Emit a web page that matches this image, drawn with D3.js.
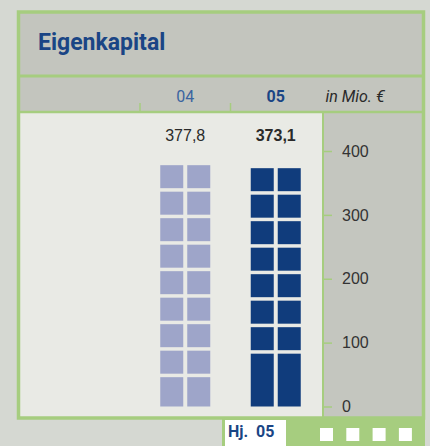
<!DOCTYPE html>
<html>
<head>
<meta charset="utf-8">
<script src="https://cdn.jsdelivr.net/npm/d3@7"></script>
<style>
  body { margin: 0; background: #d5d8d2; }
  svg { display: block; }
</style>
</head>
<body>
<div id="chart"></div>
<script>
// Eigenkapital, in Mio. €
var years = ["04", "05"];
var values = [377.8, 373.1];
var valueLabels = ["377,8", "373,1"];
var tickValues = [0, 100, 200, 300, 400];

var W = 430, H = 446;
var green = "#a6cd7f";

var svg = d3.select("#chart").append("svg")
    .attr("width", W)
    .attr("height", H);

// bottom tab
svg.append("rect").attr("x", 222).attr("y", 416).attr("width", 203).attr("height", 30).attr("fill", green);
svg.append("rect").attr("x", 225).attr("y", 420).attr("width", 61).attr("height", 26).attr("fill", "#ffffff");
svg.append("text")
    .attr("x", 228).attr("y", 437)
    .style("font", "bold 16px Roboto")
    .style("fill", "#1a4585")
    .attr("xml:space", "preserve")
    .text("Hj.  05");

var squares = svg.selectAll(".sq")
    .data([0, 1, 2, 3]).enter()
    .append("rect")
    .attr("class", "sq")
    .attr("x", function(d) { return 320 + d * 26.3; })
    .attr("y", 428)
    .attr("width", 13)
    .attr("height", 13)
    .attr("fill", "#ffffff");

// panels
svg.append("rect").attr("x", 19).attr("y", 12).attr("width", 404).attr("height", 65).attr("fill", "#c3c5be");
svg.append("rect").attr("x", 19).attr("y", 77).attr("width", 404).attr("height", 36).attr("fill", "#c3c5be");
svg.append("rect").attr("x", 19).attr("y", 113).attr("width", 304).attr("height", 305).attr("fill", "#e9eae5");
svg.append("rect").attr("x", 323).attr("y", 113).attr("width", 100).attr("height", 305).attr("fill", "#c4c6bf");

// frame lines
svg.append("rect")
    .attr("x", 18.5).attr("y", 12).attr("width", 405).attr("height", 406)
    .attr("fill", "none")
    .attr("stroke", green)
    .attr("stroke-width", 3.5);
svg.append("line").attr("x1", 19).attr("x2", 423).attr("y1", 76).attr("y2", 76)
    .attr("stroke", green).attr("stroke-width", 3);
svg.append("line").attr("x1", 19).attr("x2", 423).attr("y1", 112).attr("y2", 112)
    .attr("stroke", green).attr("stroke-width", 2.5);

// title
svg.append("text")
    .attr("x", 38).attr("y", 50)
    .style("font", "bold 23px Roboto")
    .style("fill", "#1a4585")
    .text("Eigenkapital");

var x = d3.scaleBand().domain(years).range([140, 321]);
var y = d3.scaleLinear().domain([0, 400]).range([406.5, 151]);

// header ticks between columns
svg.selectAll(".htick")
    .data(years).enter()
    .append("line")
    .attr("x1", function(d) { return x(d); })
    .attr("x2", function(d) { return x(d); })
    .attr("y1", 103).attr("y2", 112)
    .attr("stroke", green)
    .attr("stroke-width", 1.5);

svg.selectAll(".year")
    .data(years).enter()
    .append("text")
    .attr("x", function(d) { return x(d) + x.bandwidth() / 2; })
    .attr("y", 102)
    .attr("text-anchor", "middle")
    .style("font", function(d, i) { return (i == 1 ? "bold " : "") + "16px Roboto"; })
    .style("fill", function(d, i) { return i == 1 ? "#1a4585" : "#3a64a0"; })
    .text(function(d) { return d; });

svg.append("text")
    .attr("x", 355).attr("y", 102)
    .attr("text-anchor", "middle")
    .style("font", "italic 16px Roboto")
    .style("fill", "#2a2a2a")
    .text("in Mio. €");

// value labels
svg.selectAll(".val")
    .data(values).enter()
    .append("text")
    .attr("x", function(d, i) { return x(years[i]) + x.bandwidth() / 2; })
    .attr("y", 141)
    .attr("text-anchor", "middle")
    .style("font", function(d, i) { return (i == 1 ? "bold " : "") + "16px 'Liberation Sans'"; })
    .style("fill", "#2a2a2a")
    .text(function(d, i) { return valueLabels[i]; });

// bars made of tiles, stacked from the top down, last tile takes the rest
var barW = 50, colGap = 4, pitch = 26.5, gap = 3.5;
var barColors = ["#9ea5c9", "#103c7c"];

values.forEach(function(v, i) {
  var top = y(v), bottom = y(0);
  var rows = [];
  var t = top;
  while (bottom - t > 2.05 * pitch) {
    rows.push([t, pitch - gap]);
    t += pitch;
  }
  rows.push([t, bottom - t]);

  var x0 = x(years[i]) + x.bandwidth() / 2 - barW / 2;
  var cw = (barW - colGap) / 2;
  var g = svg.append("g");
  [0, 1].forEach(function(c) {
    g.selectAll(".c" + c)
      .data(rows).enter()
      .append("rect")
      .attr("x", x0 + c * (cw + colGap))
      .attr("y", function(r) { return r[0]; })
      .attr("width", cw)
      .attr("height", function(r) { return r[1]; })
      .attr("fill", barColors[i]);
  });
});

// right axis
var axis = svg.append("g")
    .attr("transform", "translate(323,0)")
    .call(d3.axisRight(y).tickValues(tickValues).tickSize(9).tickPadding(10).tickSizeOuter(0));
axis.select(".domain").remove();
axis.append("line").attr("x1", 0).attr("x2", 0).attr("y1", 113).attr("y2", 417)
    .attr("stroke", green).attr("stroke-width", 2);
axis.selectAll(".tick line").attr("stroke", green).attr("stroke-width", 1.5);
axis.selectAll(".tick text")
    .style("font", "16px 'Liberation Sans'")
    .style("fill", "#333333");
</script>
</body>
</html>
